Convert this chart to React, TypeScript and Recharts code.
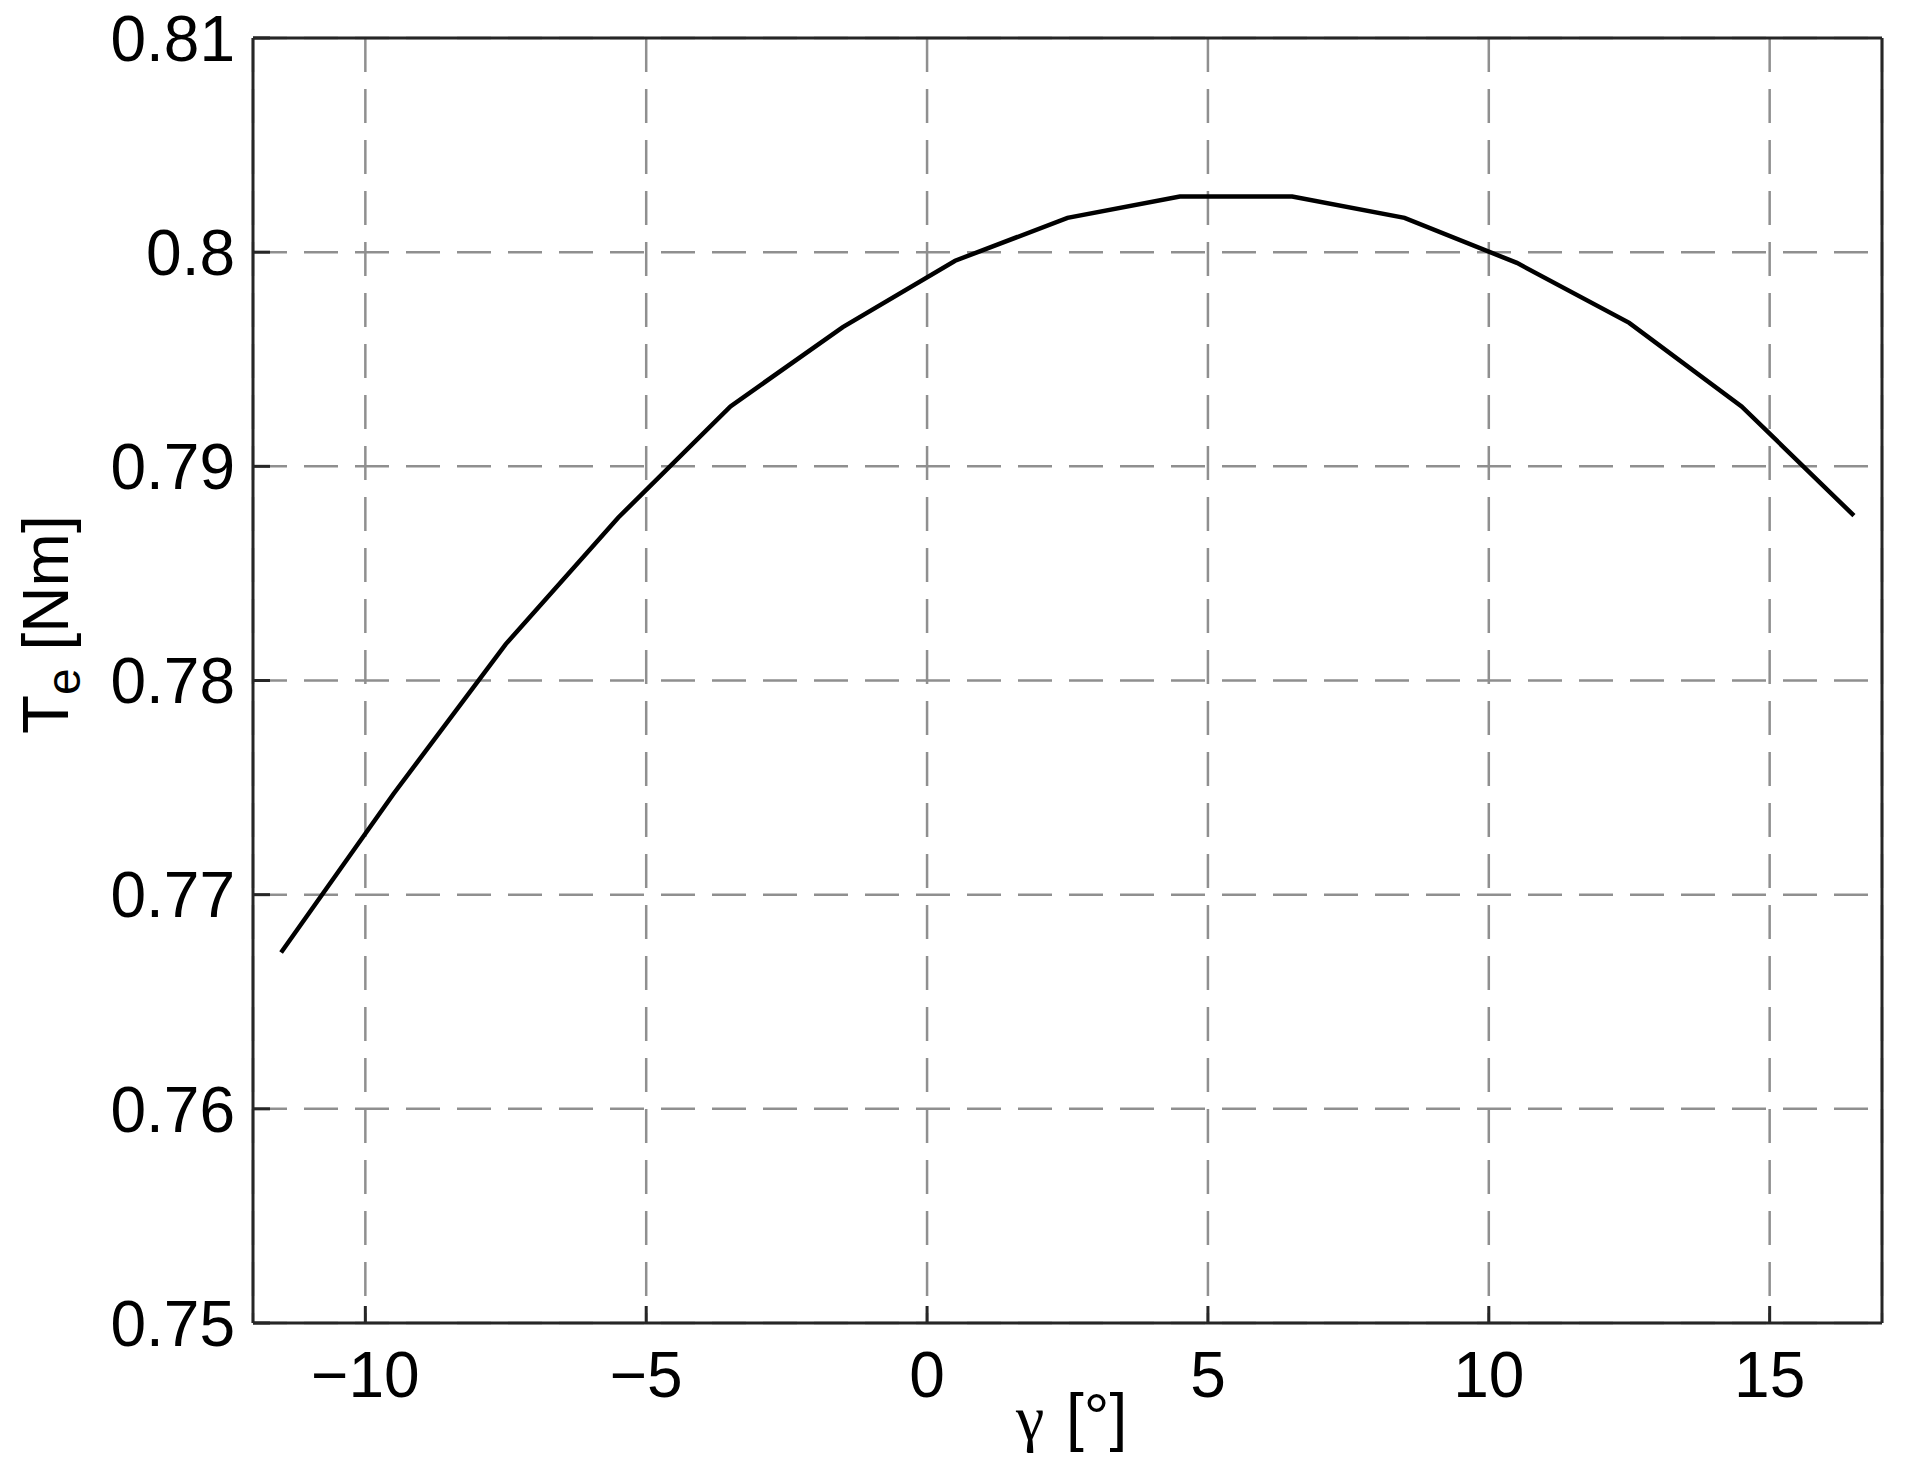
import { LineChart, Line, XAxis, YAxis, CartesianGrid } from 'recharts'

// torque vs load angle, sampled every 2 degrees
const gamma = [-11.5, -9.5, -7.5, -5.5, -3.5, -1.5, 0.5, 2.5, 4.5, 6.5, 8.5, 10.5, 12.5, 14.5, 16.5]
const torque = [0.7673, 0.7747, 0.7817, 0.7876, 0.7928, 0.7965, 0.7996, 0.8016, 0.8026, 0.8026, 0.8016, 0.7995, 0.7967, 0.7928, 0.7877]
const xTicks = [-10, -5, 0, 5, 10, 15]
const yTicks = [0.75, 0.76, 0.77, 0.78, 0.79, 0.8, 0.81]

const data = gamma.map((g, i) => ({ g, te: torque[i] }))

const font = '"Liberation Sans", Arial, Helvetica, sans-serif'
const tickStyle = { fontFamily: font, fontSize: 64, fill: '#000' }
const axisStroke = { stroke: '#262626', strokeWidth: 3 }

const minus = (v: number) => String(v).replace('-', '\u2212')

export default function App() {
  return (
    <div style={{ position: 'absolute', left: 0, top: 0, width: 1907, height: 1475, background: '#fff' }}>
      <LineChart width={1907} height={1475} data={data} margin={{ top: 37, right: 24, left: 53, bottom: 52 }}>
        <CartesianGrid xAxisId="b" yAxisId="l" stroke="#8f8f8f" strokeWidth={2.5} strokeDasharray="34 17" />
        <XAxis
          xAxisId="b"
          dataKey="g"
          type="number"
          domain={[-12, 17]}
          allowDataOverflow
          ticks={xTicks}
          tickFormatter={minus}
          height={100}
          tickSize={-17}
          tickMargin={46}
          tick={tickStyle}
          axisLine={axisStroke}
          tickLine={axisStroke}
        />
        {/* top and right copies close the box, ticks pointing inward */}
        <XAxis
          xAxisId="t"
          dataKey="g"
          orientation="top"
          type="number"
          domain={[-12, 17]}
          allowDataOverflow
          ticks={xTicks}
          height={1}
          tickSize={-17}
          tick={false}
          axisLine={axisStroke}
          tickLine={axisStroke}
        />
        <YAxis
          yAxisId="l"
          type="number"
          domain={[0.75, 0.81]}
          allowDataOverflow
          ticks={yTicks}
          width={200}
          tickSize={-17}
          tickMargin={35}
          tick={tickStyle}
          axisLine={axisStroke}
          tickLine={axisStroke}
        />
        <YAxis
          yAxisId="r"
          orientation="right"
          type="number"
          domain={[0.75, 0.81]}
          allowDataOverflow
          ticks={yTicks}
          width={1}
          tickSize={-17}
          tick={false}
          axisLine={axisStroke}
          tickLine={axisStroke}
        />
        <Line
          xAxisId="t"
          yAxisId="r"
          type="linear"
          dataKey="te"
          stroke="none"
          dot={false}
          activeDot={false}
          isAnimationActive={false}
        />
        <Line
          xAxisId="b"
          yAxisId="l"
          type="linear"
          dataKey="te"
          stroke="#000"
          strokeWidth={4.5}
          dot={false}
          isAnimationActive={false}
        />
        {/* axis titles */}
        <text x={68} y={734} transform="rotate(-90, 68, 734)" fontFamily={font} fontSize={64} fill="#000">
          <tspan>T</tspan>
          <tspan fontSize={48} dy={12}>e</tspan>
          <tspan dy={-12}> [Nm]</tspan>
        </text>
        <text x={1016} y={1439} fontFamily={font} fontSize={64} fill="#000">
          <tspan fontFamily='"Liberation Serif", "Times New Roman", serif'>γ</tspan>
          <tspan dx={4}> [°]</tspan>
        </text>
      </LineChart>
    </div>
  )
}
